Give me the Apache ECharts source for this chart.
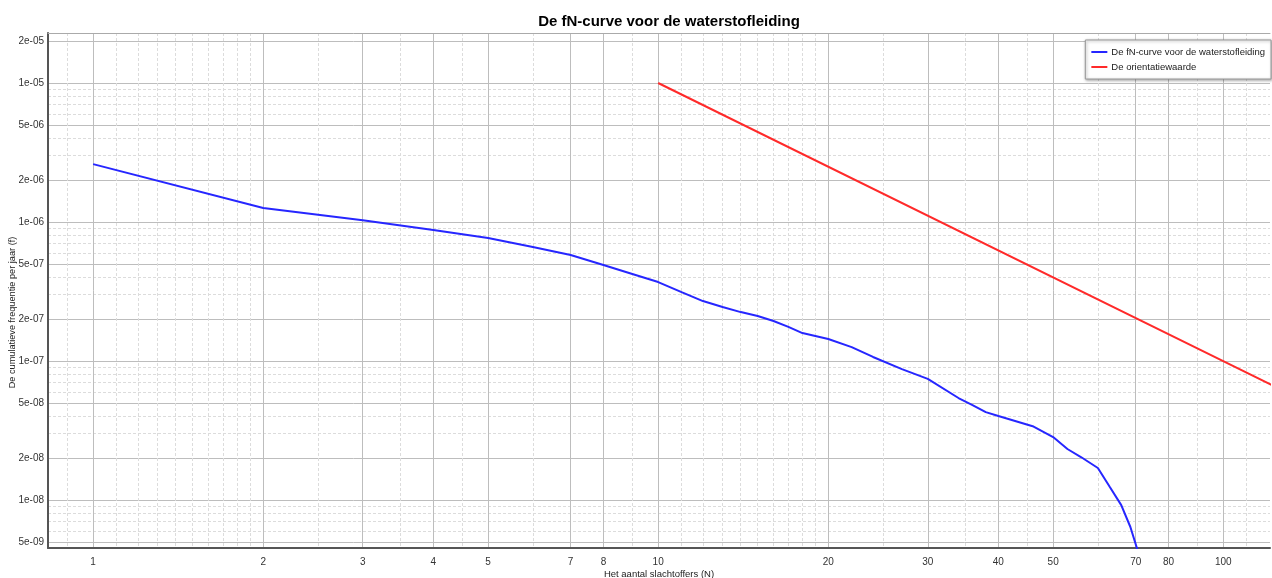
<!DOCTYPE html>
<html>
<head>
<meta charset="utf-8">
<script src="https://cdn.jsdelivr.net/npm/echarts@6/dist/echarts.min.js"></script>
<style>html,body{margin:0;padding:0;background:#fff}#c{width:1272px;height:578px}</style>
</head>
<body>
<div id="c"></div>
<script>
const chartTitle = 'De fN-curve voor de waterstofleiding';
const seriesNames = ['De fN-curve voor de waterstofleiding', 'De orientatiewaarde'];
const xAxisName = 'Het aantal slachtoffers (N)';
const yAxisName = 'De cumulatieve frequentie per jaar (f)';

const fnN = [1, 2, 3, 4, 5, 6, 7, 8, 9, 10, 11, 12, 13, 14, 15, 16, 17, 18, 20, 22, 24, 27, 30, 34, 36, 38, 40, 46, 50, 53, 56, 60, 63, 66, 68.5, 71];
const fnF = [2.61e-6, 1.26e-6, 1.03e-6, 8.75e-7, 7.67e-7, 6.61e-7, 5.79e-7, 4.91e-7, 4.23e-7, 3.70e-7, 3.13e-7, 2.70e-7, 2.45e-7, 2.25e-7, 2.11e-7, 1.94e-7, 1.76e-7, 1.59e-7, 1.44e-7, 1.26e-7, 1.07e-7, 8.75e-8, 7.45e-8, 5.42e-8, 4.82e-8, 4.29e-8, 4.02e-8, 3.40e-8, 2.84e-8, 2.33e-8, 2.04e-8, 1.70e-8, 1.24e-8, 9.2e-9, 6.4e-9, 4.0e-9];

const orientN = [10, 100, 1000];
const orientF = [1e-5, 1e-7, 1e-9];

const xMajorTicks = [1, 2, 3, 4, 5, 7, 8, 10, 20, 30, 40, 50, 70, 80, 100];
const xTickLabels = ['1', '2', '3', '4', '5', '7', '8', '10', '20', '30', '40', '50', '70', '80', '100'];
const xMinorTicks = [0.9, 1.1, 1.2, 1.3, 1.4, 1.5, 1.6, 1.7, 1.8, 1.9, 2.5, 3.5, 4.5, 6, 9, 11, 12, 13, 14, 15, 16, 17, 18, 19, 25, 35, 45, 60, 90, 110];

const yMajorTicks = [2e-5, 1e-5, 5e-6, 2e-6, 1e-6, 5e-7, 2e-7, 1e-7, 5e-8, 2e-8, 1e-8, 5e-9];
const yTickLabels = ['2e-05', '1e-05', '5e-06', '2e-06', '1e-06', '5e-07', '2e-07', '1e-07', '5e-08', '2e-08', '1e-08', '5e-09'];
const yMinorTicks = [9e-6, 8e-6, 7e-6, 6e-6, 4e-6, 3e-6, 9e-7, 8e-7, 7e-7, 6e-7, 4e-7, 3e-7, 9e-8, 8e-8, 7e-8, 6e-8, 4e-8, 3e-8, 9e-9, 8e-9, 7e-9, 6e-9];

const xMin = 0.832, xMax = 121;
const yMin = 4.52e-9, yMax = 2.29e-5;

function lookup(v, vals, labels) {
  let best = 0, bd = Infinity;
  for (let i = 0; i < vals.length; i++) {
    const d = Math.abs(Math.log(v) - Math.log(vals[i]));
    if (d < bd) { bd = d; best = i; }
  }
  return labels[best];
}

const FONT = 'Liberation Sans';
const chart = echarts.init(document.getElementById('c'), null, {renderer: 'canvas'});
const option = {
  backgroundColor: '#fff',
  animation: false,
  textStyle: {fontFamily: FONT},
  title: {
    text: chartTitle, left: 664, top: 9, textAlign: 'center',
    textStyle: {fontFamily: FONT, fontSize: 15, fontWeight: 'bold', color: '#000'}
  },
  legend: {
    orient: 'vertical', right: 1, top: 40,
    data: seriesNames,
    icon: 'rect', itemWidth: 16, itemHeight: 2, itemGap: 5,
    padding: [7, 6, 7, 6],
    backgroundColor: '#fff', borderColor: '#999', borderWidth: 1,
    shadowColor: 'rgba(0,0,0,0.35)', shadowBlur: 3, shadowOffsetX: 1, shadowOffsetY: 1,
    textStyle: {fontFamily: FONT, fontSize: 9.5, color: '#222', padding: [0, 0, 0, -1]}
  },
  grid: {left: 48, right: 2, top: 33, bottom: 30, containLabel: false, outerBoundsMode: 'none'},
  xAxis: [
    {
      type: 'log', position: 'bottom', min: xMin, max: xMax,
      name: xAxisName, nameLocation: 'middle', nameGap: 21, nameMoveOverlap: false,
      nameTextStyle: {fontFamily: FONT, fontSize: 9.5, color: '#222'},
      axisLine: {show: true, lineStyle: {color: '#555', width: 2}},
      axisTick: {show: false, customValues: xMajorTicks},
      axisLabel: {customValues: xMajorTicks, margin: 9, fontSize: 10, color: '#333', fontFamily: FONT,
        formatter: v => lookup(v, xMajorTicks, xTickLabels)},
      splitLine: {show: true, lineStyle: {color: '#bdbdbd', width: 1}},
      minorSplitLine: {show: false}
    },
    {
      type: 'log', position: 'top', min: xMin, max: xMax,
      axisLine: {show: true, onZero: false, lineStyle: {color: '#aaa', width: 1}},
      axisTick: {show: false, customValues: xMinorTicks},
      axisLabel: {show: false, customValues: xMinorTicks},
      splitLine: {show: true, lineStyle: {color: '#dcdcdc', width: 1, type: [3, 2]}}
    }
  ],
  yAxis: [
    {
      type: 'log', position: 'left', min: yMin, max: yMax,
      name: yAxisName, nameLocation: 'middle', nameGap: 31, nameRotate: 90, nameMoveOverlap: false,
      nameTextStyle: {fontFamily: FONT, fontSize: 9.2, color: '#222', padding: [0, 0, 0, -44]},
      axisLine: {show: true, lineStyle: {color: '#555', width: 2}},
      axisTick: {show: false, customValues: yMajorTicks},
      axisLabel: {customValues: yMajorTicks, margin: 4, fontSize: 10, color: '#333', fontFamily: FONT,
        formatter: v => lookup(v, yMajorTicks, yTickLabels)},
      splitLine: {show: true, lineStyle: {color: '#bdbdbd', width: 1}}
    },
    {
      type: 'log', position: 'right', min: yMin, max: yMax,
      axisLine: {show: false},
      axisTick: {show: false, customValues: yMinorTicks},
      axisLabel: {show: false, customValues: yMinorTicks},
      splitLine: {show: true, lineStyle: {color: '#dcdcdc', width: 1, type: [3, 2]}}
    }
  ],
  series: [
    {
      name: seriesNames[0], type: 'line', xAxisIndex: 0, yAxisIndex: 0,
      data: fnN.map((n, i) => [n, fnF[i]]),
      showSymbol: false, symbol: 'none', smooth: false, clip: true,
      lineStyle: {color: '#2626ff', width: 2}, itemStyle: {color: '#2626ff'}, z: 3
    },
    {
      name: seriesNames[1], type: 'line', xAxisIndex: 0, yAxisIndex: 0,
      data: orientN.map((n, i) => [n, orientF[i]]),
      showSymbol: false, symbol: 'none', clip: true,
      lineStyle: {color: '#ff2a2a', width: 2}, itemStyle: {color: '#ff2a2a'}, z: 3
    }
  ]
};
chart.setOption(option);
</script>
</body>
</html>
